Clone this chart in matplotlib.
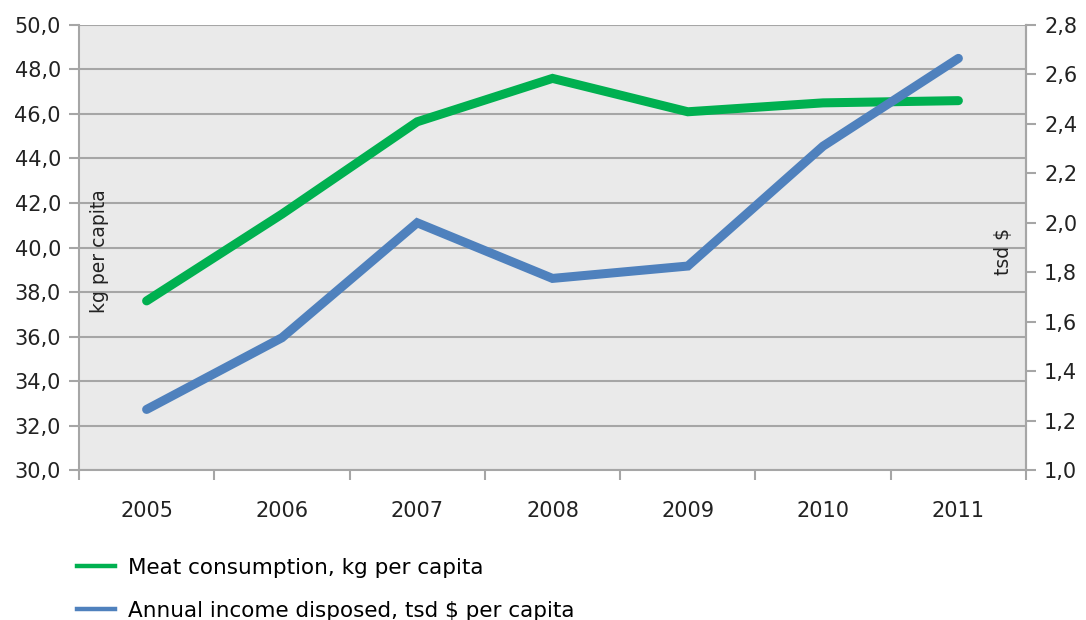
import matplotlib

matplotlib.use("Agg")
import matplotlib.pyplot as plt
from matplotlib.lines import Line2D
from matplotlib.ticker import FuncFormatter, MultipleLocator

years = ["2005", "2006", "2007", "2008", "2009", "2010", "2011"]
meat_kg = [37.6, 41.5, 45.65, 47.6, 46.1, 46.5, 46.6]
income_tsd = [1.245, 1.535, 2.0, 1.775, 1.825, 2.31, 2.665]

meat_label = "Meat consumption, kg per capita"
income_label = "Annual income disposed, tsd $ per capita"

GREEN = "#00b050"
BLUE = "#4f81bd"
GRID = "#a6a6a6"

plt.rcParams["font.family"] = ["DejaVu Sans"]

fig = plt.figure(figsize=(10.86, 6.2), dpi=100)
ax = fig.add_axes([0.0727, 0.2419, 0.8721, 0.7178])
ax.set_facecolor("#eaeaea")

x = list(range(len(years)))
ax.plot(x, meat_kg, color=GREEN, lw=6.5, solid_capstyle="round", solid_joinstyle="miter", zorder=3)
ax.set_xlim(-0.5, len(years) - 0.5)
ax.set_ylim(30, 50)
ax.yaxis.set_major_locator(MultipleLocator(2))
ax.yaxis.set_major_formatter(FuncFormatter(lambda v, _: f"{v:.1f}".replace(".", ",")))
ax.grid(axis="y", color=GRID, lw=1.5)
ax.set_axisbelow(True)

ax.set_xticks(x)
ax.set_xticklabels(years)
ax.set_xticks([i - 0.5 for i in range(len(years) + 1)], minor=True)
ax.tick_params(axis="x", which="major", length=0, pad=22, labelsize=15, labelcolor="#222222")
ax.tick_params(axis="x", which="minor", length=7, width=1.5, color=GRID)
ax.tick_params(axis="y", length=7, width=1.5, color=GRID, labelsize=15, labelcolor="#222222", pad=6)

for side in ["left", "bottom", "right"]:
    ax.spines[side].set_color(GRID)
    ax.spines[side].set_linewidth(1.5)
ax.spines["top"].set_visible(False)

ax2 = ax.twinx()
ax2.plot(x, income_tsd, color=BLUE, lw=6.5, solid_capstyle="round", solid_joinstyle="miter", zorder=3)
ax2.set_ylim(1.0, 2.8)
ax2.yaxis.set_major_locator(MultipleLocator(0.2))
ax2.yaxis.set_major_formatter(FuncFormatter(lambda v, _: f"{v:.1f}".replace(".", ",")))
ax2.tick_params(axis="y", length=7, width=1.5, color=GRID, labelsize=15, labelcolor="#222222", pad=6)
for side in ["left", "bottom", "right", "top"]:
    ax2.spines[side].set_visible(False)
ax2.spines["right"].set_visible(True)
ax2.spines["right"].set_color(GRID)
ax2.spines["right"].set_linewidth(1.5)

ax.text(0.022, 0.492, "kg per capita", transform=ax.transAxes, rotation=90,
        ha="center", va="center", fontsize=13.5, color="#222222")
ax.text(0.976, 0.492, "tsd $", transform=ax.transAxes, rotation=90,
        ha="center", va="center", fontsize=13.5, color="#222222")

handles = [
    Line2D([], [], color=GREEN, lw=3.2),
    Line2D([], [], color=BLUE, lw=3.2),
]
fig.legend(handles, [meat_label, income_label], loc="upper left",
           bbox_to_anchor=(0.071, 0.1), frameon=False, fontsize=15.5,
           handlelength=1.75, handletextpad=0.6, labelspacing=1.05,
           borderaxespad=0, borderpad=0)

fig.savefig("out.png", dpi=100)
